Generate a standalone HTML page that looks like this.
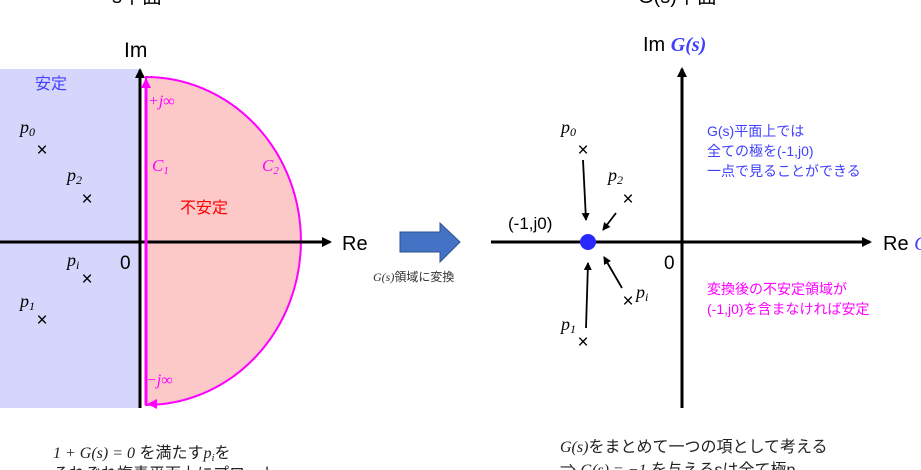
<!DOCTYPE html>
<html><head><meta charset="utf-8"><style>
body{margin:0;background:#fff;}
svg{display:block;font-family:"Liberation Sans","Noto Sans CJK JP",sans-serif;}
.m{font-family:"Liberation Serif","DejaVu Serif",serif;font-style:italic;}
</style></head><body>
<svg width="921" height="470" viewBox="0 0 921 470" xmlns="http://www.w3.org/2000/svg">
<defs>
<marker id="ak" markerWidth="10" markerHeight="10" refX="8" refY="5" orient="auto" markerUnits="userSpaceOnUse"><path d="M0,0 L10,5 L0,10 z" fill="#000"/></marker>
<marker id="as" markerWidth="8" markerHeight="8" refX="7" refY="4" orient="auto" markerUnits="userSpaceOnUse"><path d="M0,0 L8,4 L0,8 z" fill="#000"/></marker>
<marker id="am" markerWidth="10" markerHeight="10" refX="8" refY="5" orient="auto" markerUnits="userSpaceOnUse"><path d="M0,0 L10,5 L0,10 z" fill="#f0f"/></marker>
</defs>
<text x="112" y="3" font-size="20">s平面</text>
<text x="638" y="3" font-size="20">G(s)平面</text>
<rect x="0" y="69" width="140" height="339" fill="#d6d6fc"/>
<path d="M146,77 A155,164 0 0 1 146,405 Z" fill="#fcc8c8" stroke="#f0f" stroke-width="2"/>
<line x1="140" y1="408" x2="140" y2="70" stroke="#000" stroke-width="3" marker-end="url(#ak)"/>
<line x1="0" y1="242" x2="330" y2="242" stroke="#000" stroke-width="3" marker-end="url(#ak)"/>
<line x1="146" y1="405" x2="146" y2="80" stroke="#f0f" stroke-width="3" marker-end="url(#am)"/>
<line x1="156" y1="404" x2="149" y2="404" stroke="#f0f" stroke-width="2" marker-end="url(#am)"/>
<text x="124" y="57" font-size="21">Im</text>
<text x="342" y="250" font-size="20">Re</text>
<text x="120" y="269" font-size="19">0</text>
<text x="35" y="89" font-size="16" fill="#4040ff">安定</text>
<text x="180" y="213" font-size="16" fill="#f00">不安定</text>
<text x="148" y="106" font-size="16" fill="#f0f" class="m">+j∞</text>
<text x="152" y="171" font-size="17" fill="#f0f" class="m">C<tspan font-size="11" dy="3">1</tspan></text>
<text x="262" y="171" font-size="17" fill="#f0f" class="m">C<tspan font-size="11" dy="3">2</tspan></text>
<text x="146" y="385" font-size="16" fill="#f0f" class="m">−j∞</text>
<g font-size="18" class="m">
<text x="20" y="133">p<tspan font-size="12" dy="3">0</tspan></text>
<text x="67" y="181">p<tspan font-size="12" dy="3">2</tspan></text>
<text x="67" y="266">p<tspan font-size="12" dy="3">i</tspan></text>
<text x="20" y="307">p<tspan font-size="12" dy="3">1</tspan></text>
<text x="561" y="133">p<tspan font-size="12" dy="3">0</tspan></text>
<text x="608" y="181">p<tspan font-size="12" dy="3">2</tspan></text>
<text x="636" y="298">p<tspan font-size="12" dy="3">i</tspan></text>
<text x="561" y="330">p<tspan font-size="12" dy="3">1</tspan></text>
</g>
<g font-size="19" text-anchor="middle">
<text x="42" y="156">×</text><text x="87" y="205">×</text><text x="87" y="285">×</text><text x="42" y="326">×</text>
<text x="583" y="156">×</text><text x="628" y="205">×</text><text x="628" y="307">×</text><text x="583" y="348">×</text>
</g>
<path d="M400,232 H440 V223 L460,242 L440,262 V252 H400 Z" fill="#4472c4" stroke="#2f528f" stroke-width="1"/>
<text x="373" y="281" font-size="12" fill="#333"><tspan class="m">G(s)</tspan>領域に変換</text>
<line x1="682" y1="408" x2="682" y2="69" stroke="#000" stroke-width="3" marker-end="url(#ak)"/>
<line x1="491" y1="242" x2="870" y2="242" stroke="#000" stroke-width="3" marker-end="url(#ak)"/>
<text x="643" y="51" font-size="20">Im <tspan fill="#4040ff" font-weight="bold" class="m">G(s)</tspan></text>
<text x="883" y="250" font-size="20">Re <tspan fill="#4040ff" class="m">G</tspan></text>
<text x="664" y="269" font-size="19">0</text>
<circle cx="588" cy="242" r="8" fill="#2828ff"/>
<text x="508" y="229" font-size="17">(-1,j0)</text>
<g stroke="#000" stroke-width="1.8" marker-end="url(#as)">
<line x1="583" y1="160" x2="586" y2="220"/>
<line x1="616" y1="213" x2="603" y2="230"/>
<line x1="622" y1="288" x2="604" y2="257"/>
<line x1="586" y1="328" x2="588" y2="263"/>
</g>
<g font-size="14" fill="#4040ff">
<text x="707" y="136">G(s)平面上では</text>
<text x="707" y="156">全ての極を(-1,j0)</text>
<text x="707" y="176">一点で見ることができる</text>
</g>
<g font-size="14" fill="#f0f">
<text x="707" y="294">変換後の不安定領域が</text>
<text x="707" y="314">(-1,j0)を含まなければ安定</text>
</g>
<g font-size="16" fill="#222">
<text x="53" y="458"><tspan class="m">1 + G(s) = 0</tspan> を満たす<tspan class="m">p<tspan font-size="11" dy="3">i</tspan></tspan><tspan dy="-3">を</tspan></text>
<text x="53" y="479">それぞれ複素平面上にプロット</text>
<text x="560" y="452"><tspan class="m">G(s)</tspan>をまとめて一つの項として考える</text>
<text x="560" y="475">⇒ <tspan class="m">G(s) = −1</tspan> を与えるsは全て極p</text>
</g>
</svg>
</body></html>
